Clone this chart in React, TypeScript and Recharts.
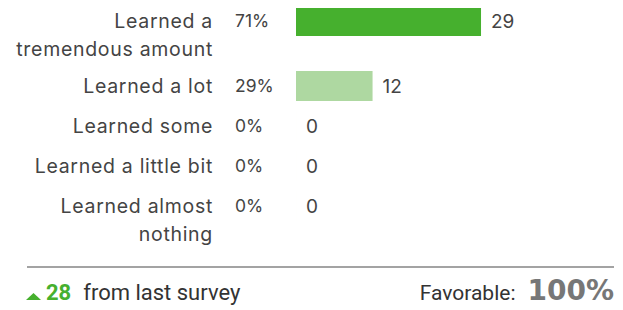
import React from "react";
import { BarChart, Bar, XAxis, YAxis, Cell, LabelList } from "recharts";

const categories = [
  "Learned a tremendous amount",
  "Learned a lot",
  "Learned some",
  "Learned a little bit",
  "Learned almost nothing",
];
const labelLines = [
  ["Learned a", "tremendous amount"],
  ["Learned a lot"],
  ["Learned some"],
  ["Learned a little bit"],
  ["Learned almost", "nothing"],
];
const counts = [29, 12, 0, 0, 0];
const percents = ["71%", "29%", "0%", "0%", "0%"];
const barColors = ["#46b02e", "#aed8a1", "#aed8a1", "#aed8a1", "#aed8a1"];
const changeFromLast = 28;
const favorable = "100%";
const axisMax = 50;

const FONT = "Inter, 'Noto Sans', sans-serif";
const TEXT = "#444";

function Row({ i }: { i: number }) {
  const lines = labelLines[i];
  const rowH = lines.length > 1 ? 65 : 40;
  const data = [{ name: categories[i], count: counts[i] }];
  return (
    <div style={{ display: "flex", height: rowH, alignItems: "flex-start" }}>
      <div
        style={{
          width: 205,
          textAlign: "right",
          paddingTop: 6,
          lineHeight: "28px",
          fontSize: 19.5,
          letterSpacing: 0.7,
          color: TEXT,
          whiteSpace: "nowrap",
        }}
      >
        {lines.map((l, k) => (
          <div key={k}>{l}</div>
        ))}
      </div>
      <div
        style={{
          width: 61,
          marginLeft: 22,
          paddingTop: 6,
          lineHeight: "28px",
          fontSize: 17.5,
          color: TEXT,
        }}
      >
        {percents[i]}
      </div>
      <BarChart
        width={319}
        height={40}
        layout="vertical"
        data={data}
        margin={{ top: 0, right: 0, bottom: 0, left: 0 }}
      >
        <XAxis type="number" domain={[0, axisMax]} hide />
        <YAxis type="category" dataKey="name" hide />
        <Bar dataKey="count" barSize={30} minPointSize={0.01} isAnimationActive={false}>
          <Cell fill={barColors[i]} />
          <LabelList
            dataKey="count"
            position="right"
            offset={10}
            style={{ fill: TEXT, fontSize: 19, fontFamily: FONT }}
          />
        </Bar>
      </BarChart>
    </div>
  );
}

export default function App() {
  return (
    <div style={{ width: 607, height: 302, fontFamily: FONT, position: "relative" }}>
      <div style={{ position: "relative", top: -7 }}>
        {categories.map((_, i) => (
          <Row key={i} i={i} />
        ))}
      </div>
      <div
        style={{
          position: "absolute",
          left: 19,
          top: 258,
          width: 587,
          height: 2,
          background: "#a3a3a3",
        }}
      />
      <div
        style={{
          position: "absolute",
          left: 19,
          top: 266,
          width: 587,
          display: "flex",
          justifyContent: "space-between",
          alignItems: "baseline",
          fontFamily: "Roboto, sans-serif",
        }}
      >
        <div style={{ display: "flex", alignItems: "baseline" }}>
          <svg width={15} height={7} style={{ marginLeft: -1, marginRight: 5, marginBottom: 3 }}>
            <polygon points="0,7 7.5,0 15,7" fill="#46b02e" />
          </svg>
          <span style={{ color: "#46b02e", fontWeight: 700, fontSize: 22 }}>
            {changeFromLast}
          </span>
          <span style={{ color: "#333", fontSize: 22, marginLeft: 12 }}>from last survey</span>
        </div>
        <div style={{ display: "flex", alignItems: "baseline" }}>
          <span style={{ color: "#333", fontSize: 21 }}>Favorable:</span>
          <span
            style={{
              color: "#777",
              fontWeight: 700,
              fontSize: 28,
              marginLeft: 12,
              fontFamily: "'DejaVu Sans', sans-serif",
            }}
          >
            {favorable}
          </span>
        </div>
      </div>
    </div>
  );
}
